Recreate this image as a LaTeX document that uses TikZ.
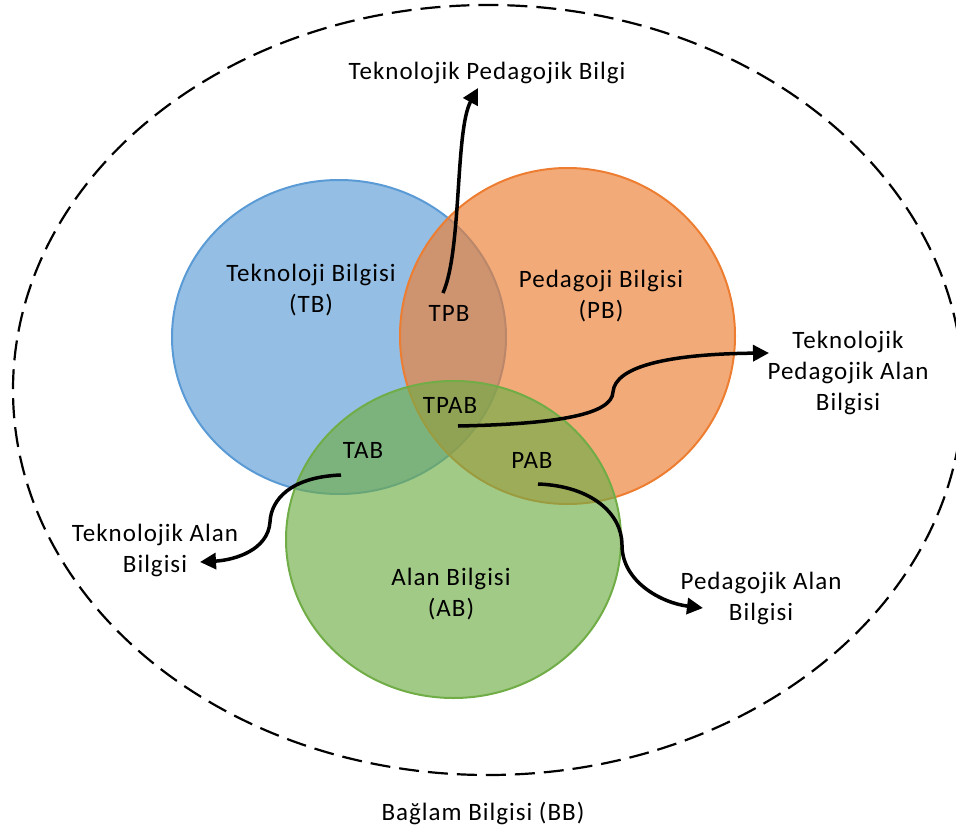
\documentclass[tikz,border=0pt]{standalone}
\usepackage{fontspec}
\setmainfont{Carlito}[LetterSpace=4]
\usetikzlibrary{arrows.meta}
\definecolor{tbblue}{HTML}{5B9BD5}
\definecolor{pborange}{HTML}{ED7D31}
\definecolor{abgreen}{HTML}{70AD47}
\tikzset{
  setbox/.style={draw=#1, line width=2pt, fill=#1, fill opacity=0.65},
  lbl/.style={inner sep=0pt, align=center, font=\fontsize{25}{31}\selectfont},
  pointer/.style={line width=3.5pt, -{Triangle[length=16pt,width=16pt]}},
}
\begin{document}
\begin{tikzpicture}[x=1pt,y=-1pt]
\useasboundingbox (0,0) rectangle (956,830);

% context: dashed outer ellipse
\draw[line width=2.2pt, dash pattern=on 20pt off 9pt] (488,390) ellipse [x radius=475pt, y radius=385pt];

% the three knowledge domains
\draw[setbox=tbblue]   (339,337) ellipse [x radius=167pt, y radius=157pt];
\draw[setbox=pborange] (567.5,336) ellipse [x radius=167.5pt, y radius=168pt];
\draw[setbox=abgreen]  (453.5,539.5) ellipse [x radius=167.5pt, y radius=158.5pt];

% labels inside the sets (base = baseline of the last line)
\node[lbl, anchor=base] (tb) at (311,312) {Teknoloji Bilgisi\\(TB)};
\node[lbl, anchor=base] (pb) at (601,318) {Pedagoji Bilgisi\\(PB)};
\node[lbl, anchor=base] (ab) at (451,616) {Alan Bilgisi\\(AB)};
\node[lbl, anchor=base] (tpb) at (449,321) {TPB};
\node[lbl, anchor=base] (tpab) at (450,413) {TPAB};
\node[lbl, anchor=base] (tab) at (363,458) {TAB};
\node[lbl, anchor=base] (pab) at (532,468) {PAB};

% outside labels
\node[lbl, anchor=base] (tpbname) at (487,79) {Teknolojik Pedagojik Bilgi};
\node[lbl, anchor=base] (tpabname) at (848,410) {Teknolojik\\Pedagojik Alan\\Bilgisi};
\node[lbl, anchor=base] (tabname) at (155,572) {Teknolojik Alan\\Bilgisi};
\node[lbl, anchor=base] (pabname) at (761,620) {Pedagojik Alan\\Bilgisi};
\node[lbl, anchor=base] (bb) at (483,820) {Bağlam Bilgisi (BB)};

% arrow end points
\coordinate (tpbfrom) at (443,293);
\coordinate (tpbto) at (478,88);
\coordinate (tpabfrom) at (458,426);
\coordinate (tpabto) at (769,353);
\coordinate (tabfrom) at (341,475);
\coordinate (tabto) at (200,562);
\coordinate (pabfrom) at (538,484);
\coordinate (pabto) at (703,608);

% pointers from the intersections to their names
\draw[pointer] (tpbfrom) .. controls (462,250) and (455,130) .. (tpbto);
\draw[pointer] (tpabfrom) .. controls (560,424) and (612,414) .. (613,392)
  .. controls (615,366) and (670,354) .. (tpabto);
\draw[pointer] (tabfrom) .. controls (290,477) and (271,500) .. (270,522)
  .. controls (268,550) and (235,560) .. (tabto);
\draw[pointer] (pabfrom) .. controls (592,486) and (622,514) .. (622,545)
  .. controls (622,582) and (662,603) .. (pabto);
\end{tikzpicture}
\end{document}
